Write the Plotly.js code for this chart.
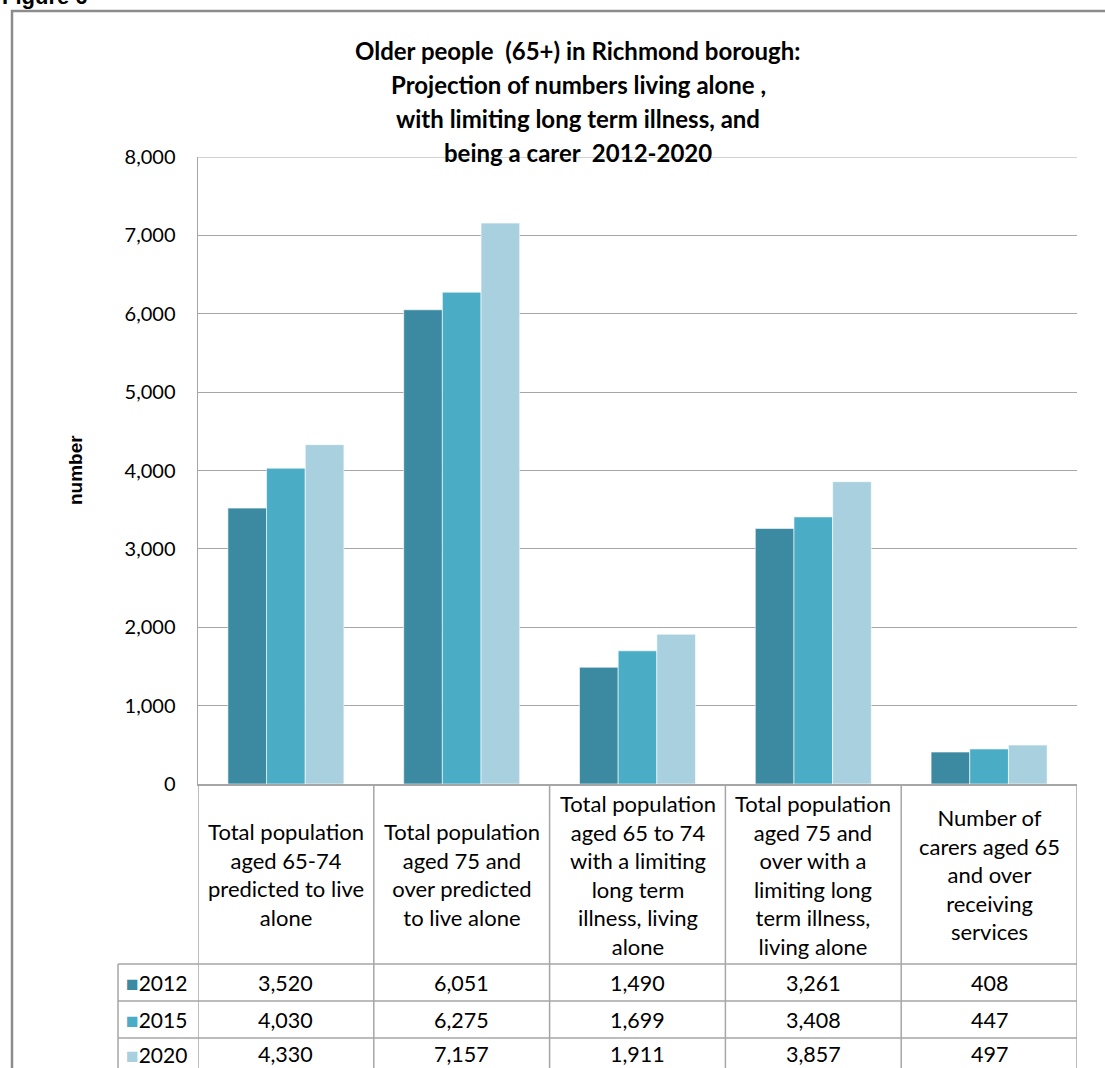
<!DOCTYPE html>
<html>
<head>
<meta charset="utf-8">
<script src="https://cdn.plot.ly/plotly-3.0.1.min.js"></script>
<style>html,body{margin:0;padding:0;background:#fff;}#chart{width:1105px;height:1068px;}</style>
</head>
<body>
<div id="chart"></div>
<script>
// ---- data ----
const categories = [
  "Total population aged 65-74 predicted to live alone",
  "Total population aged 75 and over predicted to live alone",
  "Total population aged 65 to 74 with a limiting long term illness, living alone",
  "Total population aged 75 and over with a limiting long term illness, living alone",
  "Number of carers aged 65 and over receiving services"
];
const categoryLines = [
  "Total population<br>aged 65-74<br>predicted to live<br>alone",
  "Total population<br>aged 75 and<br>over predicted<br>to live alone",
  "Total population<br>aged 65 to 74<br>with a limiting<br>long term<br>illness, living<br>alone",
  "Total population<br>aged 75 and<br>over with a<br>limiting long<br>term illness,<br>living alone",
  "Number of<br>carers aged 65<br>and over<br>receiving<br>services"
];
const seriesNames = ["2012", "2015", "2020"];
const values2012 = [3520, 6051, 1490, 3261, 408];
const values2015 = [4030, 6275, 1699, 3408, 447];
const values2020 = [4330, 7157, 1911, 3857, 497];
const titleLines = [
  "Older people  (65+) in Richmond borough:",
  "Projection of numbers living alone ,",
  "with limiting long term illness, and",
  "being a carer  2012-2020"
];
const yTitle = "number";
const figureLabel = "Figure 6";

// ---- styling ----
const colors = ["#3C8AA2", "#4BACC6", "#A9D0DF"];
const seriesValues = [values2012, values2015, values2020];
const FONT = "Lato, Carlito, Calibri, 'Open Sans', sans-serif";
const gridCol = "#A6A6A6";

const traces = seriesNames.map((name, i) => ({
  type: "bar",
  name: name,
  x: categories,
  y: seriesValues[i],
  marker: {color: colors[i], line: {color: "rgba(255,255,255,0.6)", width: 1}},
  hoverinfo: "x+y+name"
}));

// pixel helpers (plot area: x 198..1077, y 157..784)
const L = 198, R = 1077, T = 157, B = 784;
const px = p => (p - L) / (R - L);
const py = p => (B - p) / (B - T);

const annotations = [];
const titleYs = [50, 84, 118, 152];
titleLines.forEach((t, i) => {
  annotations.push({xref: "paper", yref: "paper", x: px(578), y: py(titleYs[i]), xanchor: "center", yanchor: "middle",
    text: "<b>" + t + "</b>", showarrow: false, font: {family: FONT, size: 24, color: "#000"}});
});
annotations.push({xref: "paper", yref: "paper", x: px(0), y: py(-4), xanchor: "left", yanchor: "middle",
  text: "<b>" + figureLabel + "</b>", showarrow: false, font: {family: "'Liberation Sans', Arial, sans-serif", size: 22, color: "#000"}});
annotations.push({xref: "paper", yref: "paper", x: px(75), y: py(470), xanchor: "center", yanchor: "middle",
  text: "<b>" + yTitle + "</b>", textangle: -90, showarrow: false, font: {family: "'Liberation Sans', Arial, sans-serif", size: 19, color: "#000"}});

// header labels
categories.forEach((c, i) => {
  annotations.push({xref: "x", yref: "paper", x: c, y: py(875), xanchor: "center", yanchor: "middle",
    text: categoryLines[i], showarrow: false, align: "center", font: {family: FONT, size: 22, color: "#000"}});
});
// data rows
const rowCenters = [982.5, 1019.5, 1054];
seriesNames.forEach((name, r) => {
  annotations.push({xref: "paper", yref: "paper", x: px(124), y: py(rowCenters[r]), xanchor: "left", yanchor: "middle",
    text: '<span style="color:' + colors[r] + '">■</span>' + name, showarrow: false, font: {family: FONT, size: 21, color: "#000"}});
  categories.forEach((c, i) => {
    annotations.push({xref: "x", yref: "paper", x: c, y: py(rowCenters[r]), xanchor: "center", yanchor: "middle",
      text: seriesValues[r][i].toLocaleString("en-US"), showarrow: false, font: {family: FONT, size: 21.5, color: "#000"}});
  });
});

// table lines
const shapes = [];
const lineStyle = {color: gridCol, width: 1.5};
// top gridline at axis max
shapes.push({type: "line", xref: "paper", yref: "y", x0: 0, x1: 1, y0: 8000, y1: 8000, line: {color: gridCol, width: 1}});
for (let k = 0; k <= categories.length; k++) {
  shapes.push({type: "line", xref: "x", yref: "paper", x0: k - 0.5, x1: k - 0.5, y0: py(784), y1: py(1100), line: lineStyle});
}
[964, 1001, 1038].forEach(p => {
  shapes.push({type: "line", xref: "paper", yref: "paper", x0: px(118), x1: 1, y0: py(p), y1: py(p), line: lineStyle});
});
shapes.push({type: "line", xref: "paper", yref: "paper", x0: px(118), x1: px(118), y0: py(964), y1: py(1100), line: lineStyle});
// outer frame
shapes.push({type: "rect", xref: "paper", yref: "paper", x0: px(12), x1: px(1120), y0: py(1120), y1: py(11),
  line: {color: "#8C8C8C", width: 2.5}, fillcolor: "rgba(0,0,0,0)", layer: "below"});

const layout = {
  width: 1105, height: 1068,
  margin: {l: L, r: 1105 - R, t: T, b: 1068 - B, pad: 0},
  paper_bgcolor: "#fff", plot_bgcolor: "#fff",
  barmode: "group", bargap: 0.34, bargroupgap: 0,
  showlegend: false,
  font: {family: FONT, color: "#000"},
  xaxis: {type: "category", range: [-0.5, 4.5], showticklabels: false, showgrid: false, zeroline: false,
    showline: true, linecolor: gridCol, linewidth: 1.5, ticks: "", fixedrange: true},
  yaxis: {range: [0, 8000], dtick: 1000, tickformat: ",", showgrid: true, gridcolor: gridCol, gridwidth: 1,
    zeroline: false, showline: true, linecolor: gridCol, linewidth: 1.5, ticks: "",
    ticklabelstandoff: 17, tickfont: {family: FONT, size: 20, color: "#000"}, fixedrange: true},
  annotations: annotations,
  shapes: shapes
};

Plotly.newPlot("chart", traces, layout, {displayModeBar: false, staticPlot: true});
</script>
</body>
</html>
